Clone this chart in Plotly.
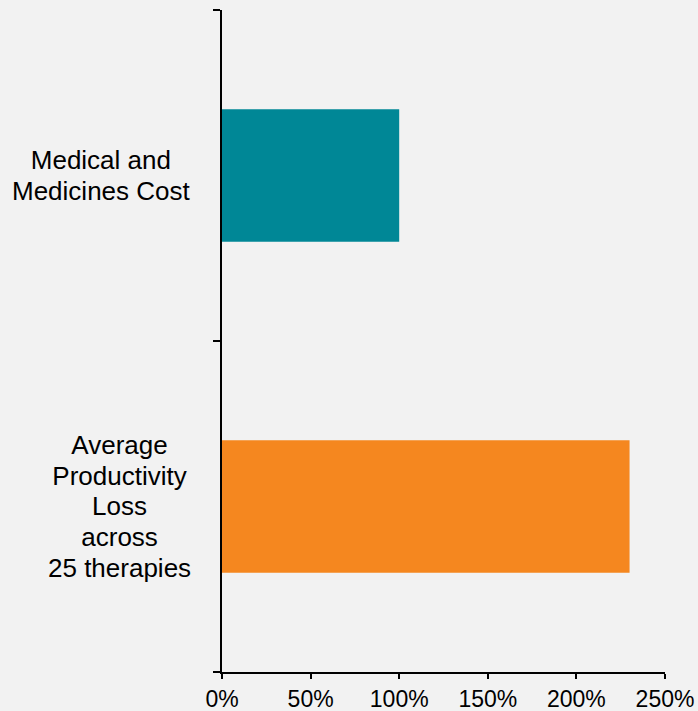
import plotly.graph_objects as go

categories = ["Medical and<br>Medicines Cost", "Average<br>Productivity<br>Loss<br>across<br>25 therapies"]
values = [1.00, 2.30]
bar_colors = ["#008796", "#F5871F"]
x_ticks = [0, 0.5, 1.0, 1.5, 2.0, 2.5]
x_tick_labels = ["0%", "50%", "100%", "150%", "200%", "250%"]

font_family = "Liberation Sans, Arial, sans-serif"

fig = go.Figure()
fig.add_trace(go.Bar(
    x=values,
    y=categories,
    orientation="h",
    marker=dict(color=bar_colors, line=dict(width=0)),
    width=0.4,
    hoverinfo="skip",
))

for cat in categories:
    styled = "<br>".join(
        '<span style="font-size:26px">' + line + "</span>" for line in cat.split("<br>")
    )
    fig.add_annotation(
        x=0, xref="paper", y=cat, yref="y",
        text=styled, showarrow=False,
        xanchor="right", yanchor="middle", align="center",
        xshift=-29,
        font=dict(family=font_family, size=23.6, color="black"),
    )

fig.update_layout(
    width=698, height=711,
    margin=dict(l=222, r=33, t=10, b=39, autoexpand=False),
    paper_bgcolor="#f2f2f2",
    plot_bgcolor="#f2f2f2",
    showlegend=False,
    font=dict(family=font_family, size=23, color="black"),
    bargap=0.6,
)
fig.update_xaxes(
    range=[0, 2.5],
    tickvals=x_ticks,
    ticktext=x_tick_labels,
    showline=True, linecolor="black", linewidth=2,
    ticks="outside", ticklen=5, tickwidth=2, tickcolor="black",
    showgrid=False, zeroline=False, automargin=False,
    tickfont=dict(family=font_family, size=23, color="black"),
)
fig.update_yaxes(
    type="category",
    categoryorder="array",
    categoryarray=list(reversed(categories)),
    range=[-0.5, 1.5],
    tickson="boundaries",
    showticklabels=False,
    showline=True, linecolor="black", linewidth=2,
    ticks="outside", ticklen=7, tickwidth=2, tickcolor="black",
    showgrid=False, zeroline=False, automargin=False,
)

fig.write_html("out.html")
